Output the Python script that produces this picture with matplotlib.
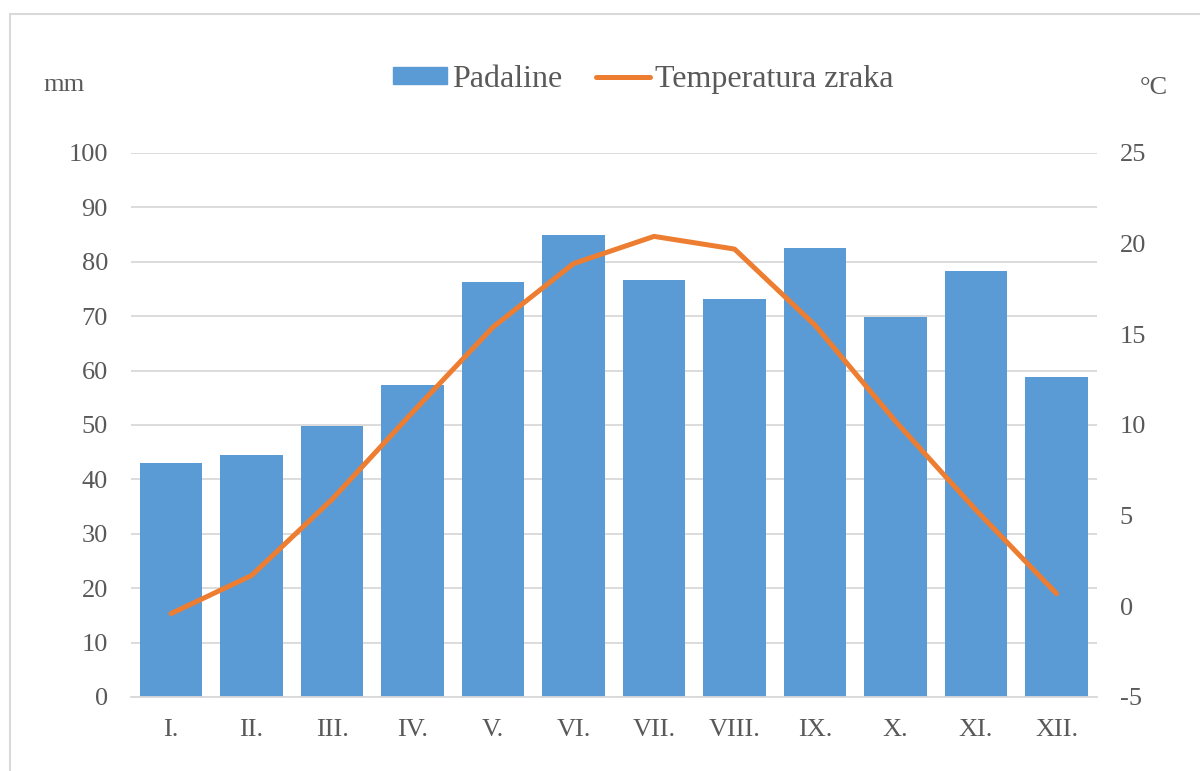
import numpy as np
import matplotlib.pyplot as plt
from matplotlib.patches import Rectangle
from matplotlib.lines import Line2D

months = ['I.', 'II.', 'III.', 'IV.', 'V.', 'VI.', 'VII.', 'VIII.', 'IX.', 'X.', 'XI.', 'XII.']
padaline = [43.0, 44.5, 49.8, 57.3, 76.2, 84.9, 76.6, 73.1, 82.6, 69.8, 78.3, 58.9]
temperatura = [-0.4, 1.7, 5.9, 10.7, 15.4, 18.9, 20.4, 19.7, 15.5, 10.2, 5.3, 0.7]

plt.rcParams['font.family'] = ['Liberation Serif', 'DejaVu Serif']
plt.rcParams['axes.unicode_minus'] = False
text_col = '#595959'
blue = '#5B9BD5'
orange = '#ED7D31'
grid_col = '#D9D9D9'

fig = plt.figure(figsize=(12, 7.71), dpi=100)
ax = fig.add_axes([0.109, 0.096, 0.805, 0.7056])
ax2 = ax.twinx()

x = np.arange(len(months))
ax.bar(x, padaline, width=0.78, color=blue, zorder=2)
ax2.plot(x, temperatura, color=orange, linewidth=3.6, solid_capstyle='round', zorder=3)

ax.set_xlim(-0.5, len(months) - 0.5)
ax.set_ylim(0, 100)
ax.set_yticks(np.arange(0, 101, 10))
ax2.set_ylim(-5, 25)
ax2.set_yticks(np.arange(-5, 26, 5))

ax.set_xticks(x)
ax.set_xticklabels(months)
ax.grid(axis='y', color=grid_col, linewidth=1.3, zorder=0)
ax.set_axisbelow(True)

for a in (ax, ax2):
    for s in a.spines.values():
        s.set_visible(False)
    a.tick_params(length=0, labelsize=19, colors=text_col)
ax.spines['bottom'].set_visible(True)
ax.spines['bottom'].set_color(grid_col)
ax.spines['bottom'].set_linewidth(1.3)
ax.tick_params(axis='y', pad=16.5)
ax.tick_params(axis='x', pad=15.5)
ax2.tick_params(axis='y', pad=16.5)

fig.text(0.036, 0.89, 'mm', fontsize=19, color=text_col, va='center')
fig.text(0.950, 0.886, '°C', fontsize=19, color=text_col, va='center')

# legend
handles = [Rectangle((0, 0), 1, 1, color=blue),
           Line2D([0], [0], color=orange, linewidth=3.6, solid_capstyle='round')]
fig.legend(handles, ['Padaline', 'Temperatura zraka'], loc='center',
           bbox_to_anchor=(0.536, 0.897), ncol=2, frameon=False, fontsize=23,
           labelcolor=text_col, handlelength=1.7, handleheight=0.47,
           handletextpad=0.15, columnspacing=1.05)

# chart border
fig.patches.append(Rectangle((0.008, -0.01), 1.0, 0.992, transform=fig.transFigure,
                             fill=False, edgecolor='#D9D9D9', linewidth=1.5))

fig.savefig('out.png', dpi=100)
